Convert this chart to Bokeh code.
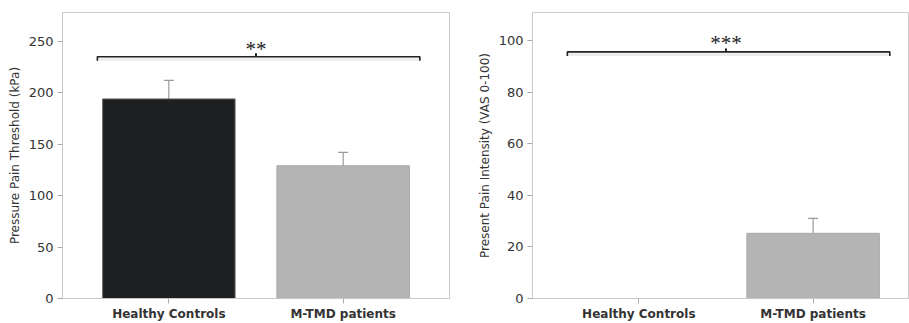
from bokeh.plotting import figure
from bokeh.layouts import row
from bokeh.models import Range1d, FixedTicker, Whisker, TeeHead, ColumnDataSource
from bokeh.core.properties import value
from bokeh.embed import file_html
from bokeh.resources import INLINE

# ---- data ----
categories = ["Healthy Controls", "M-TMD patients"]
ppt_mean = [194, 129]          # Pressure Pain Threshold (kPa)
ppt_sem = [18, 13]
pain_mean = [0, 25.3]          # Present Pain Intensity (VAS 0-100)
pain_sem = [0, 5.8]
ppt_sig = "**"
pain_sig = "***"
ppt_bracket = 235
pain_bracket = 95.7
ppt_ymax = 278
pain_ymax = 111
left_ticks = [0, 50, 100, 150, 200, 250]
right_ticks = [0, 20, 40, 60, 80, 100]

bar_colors = ["#1e1f21", "#b4b4b4"]
bar_lines = ["#6a6a6a", "#a8a8a8"]

FONT = "DejaVu Sans"
H = 323
TOP = 12
BOTTOM = 25
FRAME_H = H - TOP - BOTTOM


def make_panel(width, border_left, border_right, x_end, ymax, yticks, means, sems,
               ylabel, bracket_y, sig, sig_offset):
    p = figure(width=width, height=H, output_backend="svg", toolbar_location=None,
               x_range=Range1d(-0.61, x_end), y_range=Range1d(0, ymax),
               min_border_left=border_left, min_border_right=border_right,
               min_border_top=TOP, min_border_bottom=BOTTOM)
    p.xgrid.visible = False
    p.ygrid.visible = False
    p.outline_line_color = "#cccccc"
    p.background_fill_color = "white"
    p.border_fill_color = "white"

    xs = list(range(len(categories)))
    src = ColumnDataSource(dict(x=xs, top=means, color=bar_colors, lc=bar_lines))
    p.vbar(x="x", top="top", bottom=0, width=0.76, source=src,
           fill_color="color", line_color="lc", line_width=1)

    # error bars (only where sem > 0)
    esrc = ColumnDataSource(dict(
        x=[x for x, s in zip(xs, sems) if s > 0],
        lower=[m - s for m, s in zip(means, sems) if s > 0],
        upper=[m + s for m, s in zip(means, sems) if s > 0]))
    w = Whisker(base="x", lower="lower", upper="upper", source=esrc,
                line_color="#999999", line_width=1.2,
                upper_head=TeeHead(size=10, line_color="#999999", line_width=1.2),
                lower_head=TeeHead(size=10, line_color="#999999", line_width=1.2))
    p.add_layout(w)

    # significance bracket
    px = ymax / FRAME_H
    x0, x1, xm = -0.41, 1.44, 0.5
    p.line([x0, x0, x1, x1], [bracket_y - 4 * px, bracket_y, bracket_y, bracket_y - 4 * px],
           line_color="#222222", line_width=1.6)
    p.line([x0, x1], [bracket_y - 2.5 * px, bracket_y - 2.5 * px],
           line_color="#000000", line_alpha=0.07, line_width=3)
    p.line([xm, xm], [bracket_y, bracket_y + 3.5 * px], line_color="#222222", line_width=2)
    p.text(x=[xm], y=[bracket_y], text=[sig], text_align="center",
           text_baseline="alphabetic", y_offset=sig_offset,
           text_font=value("Liberation Serif"), text_font_size="21px",
           text_color="#222222")

    # x axis
    p.xaxis.ticker = FixedTicker(ticks=xs)
    p.xaxis.major_label_overrides = {i: c for i, c in enumerate(categories)}
    p.xaxis.major_label_text_font = FONT
    p.xaxis.major_label_text_font_style = "bold"
    p.xaxis.major_label_text_font_size = "12px"
    p.xaxis.major_label_text_color = "#333333"
    p.xaxis.major_label_standoff = 3
    p.xaxis.major_tick_in = 0
    p.xaxis.major_tick_out = 5
    p.xaxis.minor_tick_line_color = None
    p.xaxis.axis_line_color = "#c8c8c8"
    p.xaxis.major_tick_line_color = "#aaaaaa"

    # y axis
    p.yaxis.ticker = FixedTicker(ticks=yticks)
    p.yaxis.major_label_text_font = FONT
    p.yaxis.major_label_text_font_size = "13px"
    p.yaxis.major_label_text_color = "#333333"
    p.yaxis.major_label_standoff = 4
    p.yaxis.major_tick_in = 0
    p.yaxis.major_tick_out = 5
    p.yaxis.minor_tick_line_color = None
    p.yaxis.axis_line_color = "#c8c8c8"
    p.yaxis.major_tick_line_color = "#aaaaaa"
    p.yaxis.axis_label = ylabel
    p.yaxis.axis_label_text_font = FONT
    p.yaxis.axis_label_text_font_style = "normal"
    p.yaxis.axis_label_text_font_size = "12px"
    p.yaxis.axis_label_text_color = "#333333"
    p.yaxis.axis_label_standoff = 4
    return p


left = make_panel(460, 62, 11, 1.61, ppt_ymax, left_ticks, ppt_mean, ppt_sem,
                  "Pressure Pain Threshold (kPa)", ppt_bracket, ppt_sig, -8)
right = make_panel(449, 72, 0, -0.61 + 377 / 174.3, pain_ymax, right_ticks, pain_mean, pain_sem,
                   "Present Pain Intensity (VAS 0-100)", pain_bracket, pain_sig, -9)

layout = row(left, right)
open("out.html", "w").write(file_html(layout, INLINE))
